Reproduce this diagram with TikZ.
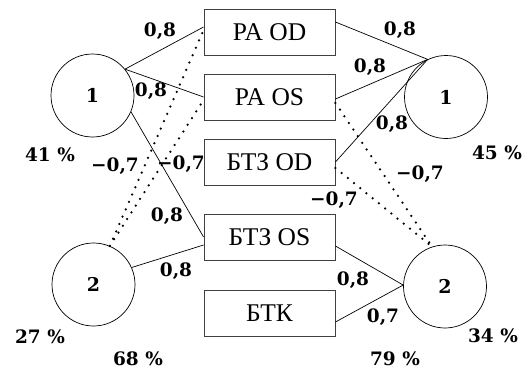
\documentclass[tikz,border=0pt]{standalone}
\usepackage{fontspec}
\setmainfont{DejaVu Serif}
\newfontfamily\boxfont{Liberation Serif}
\begin{document}
\begin{tikzpicture}[x=1pt,y=-1pt,
  box/.style={draw=black!75,line width=0.9pt,minimum width=131pt,minimum height=46pt,inner sep=0pt,font=\boxfont\fontsize{25.5}{27}\selectfont},
  circ/.style={draw,circle,line width=0.7pt,minimum size=83pt,inner sep=0pt,font=\bfseries\fontsize{19}{21}\selectfont},
  lab/.style={inner sep=0pt,font=\bfseries\fontsize{18.5}{20}\selectfont},
  conn/.style={line width=0.7pt},
  dots/.style={line width=2.5pt,dash pattern=on 0pt off 8pt,line cap=round}]
\useasboundingbox (0,0) rectangle (526,369);
\node[circ] (l1) at (92.5,95.5) {1};
\node[circ] (l2) at (93.5,284.5) {2};
\node[circ] (r1) at (446,97) {1};
\node[circ] (r2) at (445,286.5) {2};
\node[box] (paod) at (269.5,32) {PA OD};
\node[box] (paos) at (269.5,97) {PA OS};
\node[box] (btzod) at (269.5,162) {БТЗ OD};
\node[box] (btzos) at (269.5,237) {БТЗ OS};
\node[box] (btk) at (269.5,313.5) {БТК};
% left solid
\draw[conn] (l1.39) -- ([yshift=5pt]paod.west);
\draw[conn] (l1.39) -- (paos.west);
\draw[conn] (l1.-23) -- (btzos.west);
\draw[conn] (l2.24) -- ([yshift=-8pt]btzos.west);
% left dotted
\draw[dots] (l2.67) -- ([yshift=2pt]paod.west);
\draw[dots] (l2.67) -- ([yshift=-3pt]paos.west);
% right solid
\draw[conn] ([yshift=10pt]paod.east) -- (r1.116);
\draw[conn] ([yshift=-2pt]paos.east) -- (r1.116);
\draw[conn] (btzod.east) -- (r1.116);
\draw[conn] ([yshift=-9pt]btzos.east) -- (r2.178);
\draw[conn] ([yshift=-8.5pt]btk.east) -- (r2.178);
% right dotted
\draw[dots] ([yshift=-6pt]paos.east) -- (r2.108);
\draw[dots] ([yshift=-6pt]btzod.east) -- (r2.108);
% labels
\node[lab] (a1) at (160,31) {0,8};
\node[lab] (a2) at (151,91) {0,8};
\node[lab] (a3) at (115,166) {−0,7};
\node[lab] (a4) at (181,164) {−0,7};
\node[lab] (a5) at (167,216) {0,8};
\node[lab] (a6) at (176,271) {0,8};
\node[lab] (p1) at (50,155) {41\hspace{0.35em}\%};
\node[lab] (p2) at (40,337) {27\hspace{0.35em}\%};
\node[lab] (p3) at (138,359) {68\hspace{0.35em}\%};
\node[lab] (b1) at (400,30) {0,8};
\node[lab] (b2) at (370,67) {0,8};
\node[lab] (b3) at (392,124) {0,8};
\node[lab] (b4) at (420,174) {−0,7};
\node[lab] (b5) at (334,200) {−0,7};
\node[lab] (b6) at (353,280) {0,8};
\node[lab] (b7) at (383,317) {0,7};
\node[lab] (q1) at (497,153) {45\hspace{0.35em}\%};
\node[lab] (q2) at (493,336) {34\hspace{0.35em}\%};
\node[lab] (q3) at (395,359) {79\hspace{0.35em}\%};
\end{tikzpicture}
\end{document}
